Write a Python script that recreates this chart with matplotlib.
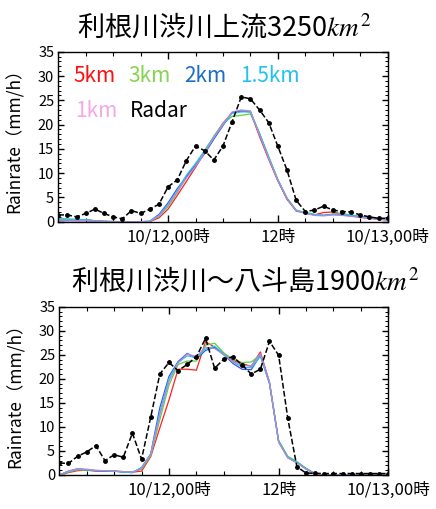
import matplotlib
matplotlib.use('Agg')
import matplotlib.pyplot as plt
import numpy as np
from matplotlib.ticker import MultipleLocator, FixedLocator

plt.rcParams['font.family'] = ['Noto Sans CJK JP', 'DejaVu Sans']
plt.rcParams['mathtext.fontset'] = 'stix'

hours = np.arange(37)

# upper basin 3250km2
radar_top = [1.4, 1.4, 1.0, 1.7, 2.6, 1.7, 1.0, 0.6, 2.3, 1.7, 2.6, 3.6, 7.2, 8.6, 12.6, 15.6, 14.6, 12.7,
             15.6, 20.6, 25.7, 25.3, 23.0, 20.4, 15.5, 10.6, 4.4, 2.1, 2.4, 3.2, 2.4, 2.1, 2.0, 1.4, 1.0, 0.7, 0.7]
km5_top = [0.3, 0.3, 0.3, 0.45, 0.2, 0.05, 0, 0, 0, 0, 0, 0.8, 2.6, 5.4, 8.3, 11.2, 14.3, 17.5, 20.3, 22.4,
           22.8, 22.6, 17.5, 12.8, 8.4, 4.6, 2.3, 1.8, 1.4, 1.9, 2.0, 1.6, 1.2, 0.9, 0.7, 0.5, 0.4]
km3_top = [0.5, 0.45, 0.4, 0.35, 0.2, 0.1, 0.05, 0, 0, 0, 0.05, 1.1, 3.1, 6.0, 9.2, 11.9, 14.7, 17.6, 20.2, 21.7,
           21.9, 22.2, 18.2, 13.4, 8.7, 4.9, 2.4, 1.9, 1.5, 1.3, 1.6, 1.7, 1.4, 1.1, 0.8, 0.6, 0.4]
km2_top = [0.2, 0.2, 0.2, 0.2, 0.1, 0.05, 0, 0, 0, 0, 0.1, 1.5, 3.9, 6.8, 9.3, 11.6, 14.0, 17.0, 19.8, 22.5,
           22.8, 22.7, 18.0, 13.1, 8.5, 4.7, 2.2, 1.8, 1.4, 1.3, 1.5, 1.4, 1.2, 1.0, 0.8, 0.6, 0.4]
km15_top = [0.7, 0.6, 0.5, 0.4, 0.2, 0.1, 0.05, 0, 0, 0, 0.1, 1.3, 3.6, 6.4, 9.6, 12.0, 14.6, 17.4, 20.0, 22.3,
            22.6, 22.6, 18.1, 13.3, 8.6, 4.8, 2.3, 1.9, 1.5, 1.3, 1.5, 1.6, 1.3, 1.0, 0.8, 0.6, 0.4]
km1_top = [0.3, 0.3, 0.25, 0.25, 0.1, 0.05, 0, 0, 0, 0, 0.05, 1.2, 3.4, 6.2, 9.0, 11.4, 14.2, 17.3, 20.1, 22.6,
           23.0, 22.8, 17.8, 13.0, 8.5, 4.7, 2.3, 1.7, 1.3, 1.2, 1.4, 1.3, 1.1, 0.9, 0.7, 0.5, 0.35]

# Shibukawa - Yattajima 1900km2
radar_bot = [2.5, 2.4, 3.9, 4.8, 6.1, 3.0, 4.2, 3.7, 8.7, 3.3, 12.0, 21.0, 23.4, 21.7, 23.0, 24.6, 28.4, 22.2,
             24.1, 24.6, 22.9, 21.0, 22.0, 27.8, 24.9, 11.8, 1.7, 0.4, 0.35, 0.3, 0.3, 0.3, 0.3, 0.3, 0.3, 0.3, 0.3]
km5_bot = [0, 0.5, 0.9, 1.0, 0.8, 0.8, 0.8, 0.7, 0.6, 0.8, 3.8, 9.8, 15.6, 22.0, 22.0, 21.8, 27.7, 26.6, 25.2,
           23.8, 23.2, 22.6, 25.6, 19.3, 7.0, 3.7, 2.6, 1.3, 0.2, 0, 0, 0, 0, 0, 0, 0, 0]
km3_bot = [0, 0.6, 1.1, 1.0, 0.9, 0.9, 0.8, 0.7, 0.6, 1.2, 4.0, 11.5, 18.7, 23.0, 23.7, 23.7, 27.0, 27.4, 25.4,
           24.0, 23.4, 23.5, 25.0, 19.2, 7.2, 3.9, 2.8, 1.4, 0.3, 0, 0, 0, 0, 0, 0, 0, 0]
km2_bot = [0, 0.8, 1.3, 1.1, 0.9, 0.8, 0.8, 0.6, 0.5, 1.5, 4.4, 14.0, 20.5, 23.6, 25.3, 24.2, 25.9, 26.6, 25.0,
           23.2, 22.0, 21.9, 24.9, 19.0, 6.9, 3.6, 2.6, 1.3, 0.2, 0, 0, 0, 0, 0, 0, 0, 0]
km15_bot = [0, 0.7, 1.2, 1.1, 0.9, 0.9, 0.8, 0.6, 0.5, 1.6, 4.3, 13.0, 20.0, 23.4, 24.8, 24.4, 26.2, 26.8, 25.2,
            23.5, 22.5, 22.3, 24.7, 19.1, 7.0, 3.7, 2.7, 1.3, 0.2, 0, 0, 0, 0, 0, 0, 0, 0]
km1_bot = [0, 0.8, 1.3, 1.2, 1.0, 0.9, 0.8, 0.7, 0.6, 1.4, 4.2, 12.5, 19.5, 23.3, 25.2, 24.6, 26.6, 26.3, 25.0,
           23.6, 22.8, 22.7, 25.2, 19.3, 6.8, 3.6, 2.5, 1.2, 0.2, 0, 0, 0, 0, 0, 0, 0, 0]

names = ['5km', '3km', '2km', '1.5km', '1km']
line_colors = ['#ff2020', '#5cd040', '#2f55f0', '#25c8e8', '#b58ad8']
text_colors = ['#ff1010', '#86d455', '#1c6ec4', '#22c2f0', '#f4a8e6']

xtick_pos = [12, 24, 36]
xtick_lab = ['10/12,00時', '12時', '10/13,00時']

fig = plt.figure(figsize=(4.36, 5.09), dpi=100)
ax1 = fig.add_axes([0.1337, 0.5644, 0.7555, 0.334])
ax2 = fig.add_axes([0.136, 0.0668, 0.7546, 0.3306])


def draw(ax, models, radar):
    for vals, c in zip(models, line_colors):
        ax.plot(hours, vals, color=c, lw=0.9)
    ax.plot(hours, radar, color='black', ls='--', lw=1.1, marker='o', markersize=2.5)
    ax.set_xlim(0, 36)
    ax.set_ylim(0, 35)
    ax.xaxis.set_major_locator(FixedLocator(xtick_pos))
    ax.set_xticklabels(xtick_lab)
    ax.xaxis.set_minor_locator(MultipleLocator(3))
    ax.yaxis.set_major_locator(MultipleLocator(5))
    ax.yaxis.set_minor_locator(MultipleLocator(1))
    ax.tick_params(axis='x', which='major', direction='in', top=True, length=5, width=1,
                   labelsize=12, pad=5)
    ax.tick_params(axis='x', which='minor', direction='in', top=True, length=3, width=0.8)
    ax.tick_params(axis='y', which='major', direction='in', right=True, length=4, width=1,
                   labelsize=10.5, pad=3)
    ax.tick_params(axis='y', which='minor', direction='in', right=True, length=2, width=0.7)
    for s in ax.spines.values():
        s.set_linewidth(1.0)
    ax.set_ylabel('Rainrate（mm/h）', fontsize=12.5)
    ax.yaxis.set_label_coords(-0.105, 0.5)


draw(ax1, [km5_top, km3_top, km2_top, km15_top, km1_top], radar_top)
draw(ax2, [km5_bot, km3_bot, km2_bot, km15_bot, km1_bot], radar_bot)

# legend as coloured words
row1_x = [0.046, 0.2125, 0.381, 0.552]
for x, n, c in zip(row1_x, names[:4], text_colors[:4]):
    ax1.text(x, 0.82, n, color=c, fontsize=15, transform=ax1.transAxes, va='baseline')
ax1.text(0.05, 0.618, names[4], color=text_colors[4], fontsize=15, transform=ax1.transAxes, va='baseline')
ax1.text(0.218, 0.618, 'Radar', color='black', fontsize=15, transform=ax1.transAxes, va='baseline')

fig.text(0.513, 0.947, '利根川渋川上流3250$km^2$', fontsize=19.5, ha='center', va='center')
fig.text(0.562, 0.448, '利根川渋川～八斗島1900$km^2$', fontsize=19.5, ha='center', va='center')

fig.savefig('out.png', dpi=100)
